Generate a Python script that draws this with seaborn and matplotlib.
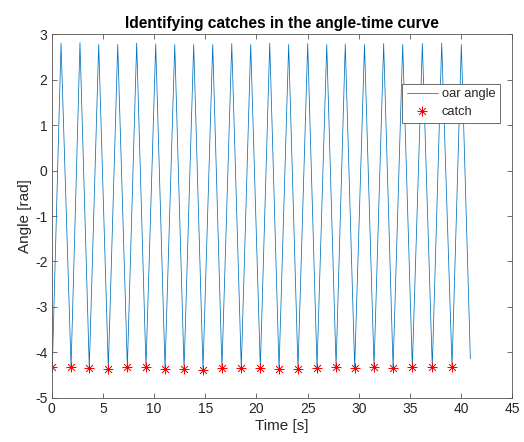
import numpy as np
import pandas as pd
import matplotlib
matplotlib.use("Agg")
import matplotlib.pyplot as plt
import seaborn as sns

# turning points
catch_t = [0.06, 1.89, 3.67, 5.53, 7.39, 9.21, 11.07, 12.93, 14.78, 16.63, 18.52,
           20.38, 22.21, 24.06, 25.92, 27.78, 29.60, 31.49, 33.35, 35.23, 37.18, 39.11]
catch_angle = [-4.33, -4.33, -4.35, -4.36, -4.33, -4.33, -4.36, -4.37, -4.38, -4.35, -4.35,
               -4.34, -4.37, -4.37, -4.34, -4.32, -4.34, -4.32, -4.35, -4.33, -4.33, -4.32]
peak_t = [0.91, 2.76, 4.59, 6.45, 8.30, 10.16, 12.02, 13.87, 15.73, 17.59, 19.44,
          21.30, 23.15, 25.01, 26.87, 28.68, 30.56, 32.43, 34.29, 36.21, 38.10, 40.02]
peak_angle = [2.81, 2.82, 2.78, 2.78, 2.81, 2.79, 2.78, 2.78, 2.78, 2.80, 2.78,
              2.81, 2.78, 2.80, 2.78, 2.79, 2.78, 2.80, 2.78, 2.80, 2.81, 2.78]
end_t = 40.90
end_angle = -4.14

# --- build the oar angle series (trough, peak, trough, ...) ---
t = []
ang = []
for i in range(len(catch_t)):
    t += [catch_t[i], peak_t[i]]
    ang += [catch_angle[i], peak_angle[i]]
t.append(end_t)
ang.append(end_angle)
df = pd.DataFrame({"time": t, "angle": ang})
catches = pd.DataFrame({"time": catch_t, "angle": catch_angle})

sns.set_style("ticks")
plt.rcParams["font.family"] = ["Liberation Sans", "DejaVu Sans"]
plt.rcParams["axes.unicode_minus"] = False
plt.rcParams["xtick.direction"] = "in"
plt.rcParams["ytick.direction"] = "in"

fig = plt.figure(figsize=(5.24, 4.42), dpi=100)
ax = fig.add_axes([0.0987, 0.1002, 0.879, 0.8218])

sns.lineplot(data=df, x="time", y="angle", sort=False, estimator=None, ax=ax,
             color="#0072BD", linewidth=0.55, label="oar angle")
ax.plot(catches["time"], catches["angle"], linestyle="none", marker=(8, 2, 0),
        markersize=7, markeredgewidth=0.5, color="red", label="catch")

ax.set_xlim(0, 45)
ax.set_ylim(-5, 3)
ax.set_xticks(np.arange(0, 46, 5))
ax.set_yticks(np.arange(-5, 4, 1))
ax.tick_params(labelsize=10, labelcolor="#262626", color="#555555", length=3.5,
               width=0.6, top=True, right=True, pad=3)
for s in ax.spines.values():
    s.set_visible(True)
    s.set_color("#555555")
    s.set_linewidth(0.6)

ax.set_title("Identifying catches in the angle-time curve", fontsize=11.2,
             fontweight="bold", color="black", pad=5)
ax.set_xlabel("Time [s]", fontsize=11, color="#262626", labelpad=2)
ax.set_ylabel("Angle [rad]", fontsize=11, color="#262626", labelpad=2)

leg = ax.legend(loc="upper right", bbox_to_anchor=(0.973, 0.864), fontsize=9.3,
                frameon=True, fancybox=False, framealpha=1, edgecolor="#555555",
                borderpad=0.35, handlelength=2.4, labelspacing=0.45, handletextpad=0.3,
                borderaxespad=0)
leg.get_frame().set_linewidth(0.6)

plt.savefig("out.png", dpi=100)
